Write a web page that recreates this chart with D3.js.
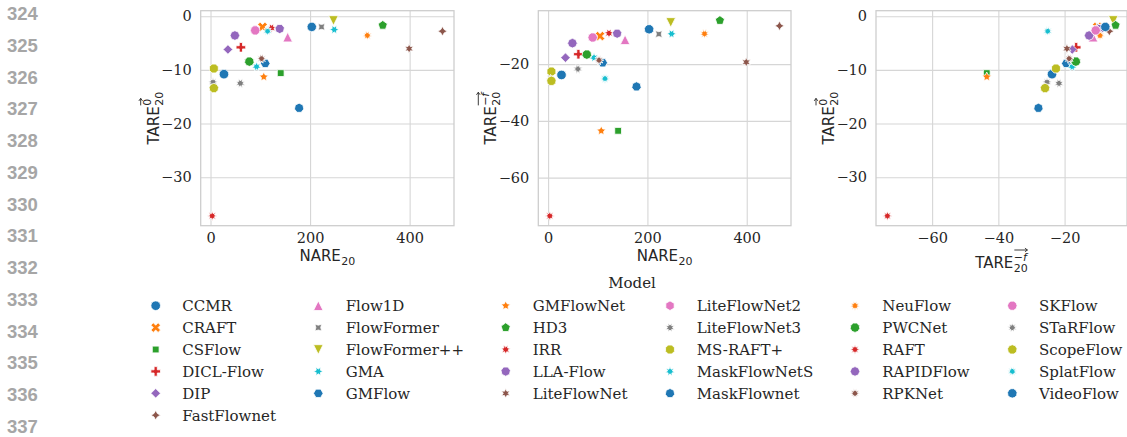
<!DOCTYPE html>
<html>
<head>
<meta charset="utf-8">
<script src="https://cdn.jsdelivr.net/npm/d3@7"></script>
<style>
  body { margin: 0; background: #fff; }
  svg text { fill: #262626; }
</style>
</head>
<body>
<svg id="chart" width="1127" height="437"></svg>
<script>
// data
const models = ['CCMR', 'CRAFT', 'CSFlow', 'DICL-Flow', 'DIP', 'FastFlownet', 'Flow1D', 'FlowFormer',
  'FlowFormer++', 'GMA', 'GMFlow', 'GMFlowNet', 'HD3', 'IRR', 'LLA-Flow', 'LiteFlowNet', 'LiteFlowNet2',
  'LiteFlowNet3', 'MS-RAFT+', 'MaskFlowNetS', 'MaskFlownet', 'NeuFlow', 'PWCNet', 'RAFT', 'RAPIDFlow',
  'RPKNet', 'SKFlow', 'STaRFlow', 'ScopeFlow', 'SplatFlow', 'VideoFlow'];

const nare20 = [27, 104.5, 141, 61, 35, 466, 155, 223, 247, 248.6, 110, 107, 346, 122.6, 139, 399, 89,
  60, 6.7, 92.5, 178, 315, 78, 3.4, 49, 102.5, 89.8, 5, 6.7, 114.6, 203.4];

const tare0 = [-10.8, -2.0, -10.6, -5.8, -6.2, -2.8, -3.9, -2.0, -0.8, -2.5, -8.8, -11.3, -1.7, -2.2,
  -2.35, -6.05, -2.6, -12.5, -9.75, -9.4, -17.1, -3.6, -8.45, -37.2, -3.6, -7.9, -2.65, -12.3, -13.4,
  -2.8, -2.0];

const tareF = [-23.8, -10.1, -43.5, -16.5, -17.7, -6.5, -11.4, -9.4, -5.3, -9.3, -19.5, -43.5, -4.6,
  -9.1, -9.2, -19.3, -10.6, -21.7, -22.6, -17.7, -27.9, -9.3, -16.6, -73.5, -12.6, -18.6, -10.6, -25.3,
  -25.9, -25.1, -7.7];

const nareTicks = [0, 200, 400];
const tare0Ticks = [0, -10, -20, -30];
const tareFTicks = [-60, -40, -20];
const lineNumbers = d3.range(324, 338);

// seaborn style markers, one per model
const markerSpecs = ['o', 'X', [4, 0, 45], 'P', [4, 0, 0], [4, 1, 0], '^', [4, 1, 45], 'v'];
for (let s = 5; markerSpecs.length < models.length; s++) {
  const a = 360 / (s + 1) / 2;
  markerSpecs.push([s + 1, 1, a], [s + 1, 0, a], [s, 1, 0], [s, 0, 0]);
}

const svg = d3.select('#chart');
const color = d3.scaleOrdinal().domain(models).range(d3.schemeCategory10);
const serif = 'DejaVu Serif';
const sans = 'DejaVu Sans';

function markerPath(spec, r) {
  const pts = [];
  if (spec === 'o') {
    return `M${r},0A${r},${r} 0 1,1 ${-r},0A${r},${r} 0 1,1 ${r},0Z`;
  }
  if (spec === 'P' || spec === 'X') {
    let v = [[-1, -3], [1, -3], [1, -1], [3, -1], [3, 1], [1, 1], [1, 3], [-1, 3], [-1, 1], [-3, 1], [-3, -1], [-1, -1]]
      .map(([a, b]) => [a / 6 * 2 * r, b / 6 * 2 * r]);
    if (spec === 'X') {
      v = [[-1, -2], [0, -1], [1, -2], [2, -1], [1, 0], [2, 1], [1, 2], [0, 1], [-1, 2], [-2, 1], [-1, 0], [-2, -1]]
        .map(([a, b]) => [a / 4 * 2 * r, b / 4 * 2 * r]);
    }
    return 'M' + v.map(p => p.join(',')).join('L') + 'Z';
  }
  if (spec === '^' || spec === 'v') {
    const s = spec === '^' ? -1 : 1;
    return `M0,${s * r}L${-r},${-s * r}L${r},${-s * r}Z`;
  }
  const [n, star, ang] = spec;
  const count = star ? 2 * n : n;
  for (let i = 0; i < count; i++) {
    const t = 2 * Math.PI * i / count + Math.PI / 2 + ang * Math.PI / 180;
    const rr = star && i % 2 ? r * 0.5 : r;
    pts.push([rr * Math.cos(t), -rr * Math.sin(t)]);
  }
  return 'M' + pts.map(p => p[0].toFixed(2) + ',' + p[1].toFixed(2)).join('L') + 'Z';
}

function padded(vals) {
  const [a, b] = d3.extent(vals);
  const p = (b - a) * 0.05;
  return [a - p, b + p];
}

// "TARE" / "NARE" with sub 20 and an optional arrowed superscript
function mathLabel(parent, cx, cy, rotate, base, sup) {
  const g = parent.append('g').attr('transform', `translate(${cx},${cy}) rotate(${rotate})`);
  const inner = g.append('g');
  const main = inner.append('text').attr('font-family', sans).attr('font-size', 15).text(base);
  const w = main.node().getComputedTextLength() + 0.5;
  const sub = inner.append('text').attr('font-family', sans).attr('font-size', 11)
    .attr('x', w).attr('y', 4).text('20');
  let extra = sub.node().getComputedTextLength();
  if (sup) {
    const st = inner.append('text').attr('font-family', sans).attr('font-size', 11)
      .attr('x', w).attr('y', -7.5);
    if (sup === 'f') {
      st.append('tspan').text('\u2212');
      st.append('tspan').attr('font-style', 'italic').text('f');
    } else {
      st.text(sup);
    }
    const sw = st.node().getComputedTextLength();
    const ay = -18;
    inner.append('path')
      .attr('d', `M${w + 0.5},${ay}L${w + sw + 0.5},${ay}M${w + sw - 2},${ay - 1.8}L${w + sw + 0.5},${ay}L${w + sw - 2},${ay + 1.8}`)
      .attr('fill', 'none').attr('stroke', '#262626').attr('stroke-width', 0.9);
    extra = Math.max(extra, sw);
  }
  inner.attr('transform', `translate(${-(w + extra) / 2},0)`);
}

// line numbers at the left margin
svg.append('g').selectAll('text').data(lineNumbers).join('text')
  .attr('x', 7).attr('y', (d, i) => 20 + i * 31.75)
  .attr('font-family', 'Liberation Sans').attr('font-weight', 'bold').attr('font-size', 18.5)
  .style('fill', '#a6a6a6').text(d => d);

const plotTop = 10.7, plotBottom = 225.7;
const panels = [
  { left: 200.7, right: 454, xs: nare20, ys: tare0, xTicks: nareTicks, yTicks: tare0Ticks, xSup: null, ySup: '0' },
  { left: 538.3, right: 791, xs: nare20, ys: tareF, xTicks: nareTicks, yTicks: tareFTicks, xSup: null, ySup: 'f' },
  { left: 876, right: 1127, xs: tareF, ys: tare0, xTicks: tareFTicks, yTicks: tare0Ticks, xSup: 'f', ySup: '0' }
];

panels.forEach(p => {
  const x = d3.scaleLinear().domain(padded(p.xs)).range([p.left, p.right]);
  const y = d3.scaleLinear().domain(padded(p.ys)).range([plotBottom, plotTop]);
  const g = svg.append('g');

  const xAxis = g.append('g').attr('transform', `translate(0,${plotBottom})`)
    .call(d3.axisBottom(x).tickValues(p.xTicks).tickSize(-(plotBottom - plotTop)).tickPadding(7));
  const yAxis = g.append('g').attr('transform', `translate(${p.left},0)`)
    .call(d3.axisLeft(y).tickValues(p.yTicks).tickSize(-(p.right - p.left)).tickPadding(9));
  [xAxis, yAxis].forEach(a => {
    a.select('.domain').remove();
    a.selectAll('.tick line').attr('stroke', '#d6d6d6').attr('stroke-width', 1.1);
    a.selectAll('.tick text').attr('font-family', serif).attr('font-size', 14.5).style('fill', '#262626');
  });

  g.append('rect')
    .attr('x', p.left).attr('y', plotTop).attr('width', p.right - p.left).attr('height', plotBottom - plotTop)
    .attr('fill', 'none').attr('stroke', '#cccccc').attr('stroke-width', 1.25);

  g.append('g').selectAll('path').data(models).join('path')
    .attr('transform', (d, i) => `translate(${x(p.xs[i])},${y(p.ys[i])})`)
    .attr('d', (d, i) => markerPath(markerSpecs[i], 4.8))
    .attr('fill', d => color(d))
    .attr('stroke', '#fff').attr('stroke-width', 0.8);

  mathLabel(svg, (p.left + p.right) / 2, p.xSup ? 268 : 261, 0, p.xSup ? 'TARE' : 'NARE', p.xSup);
  mathLabel(svg, p.left - 42, (plotTop + plotBottom) / 2, -90, 'TARE', p.ySup);
});

// legend
svg.append('text').attr('x', 632).attr('y', 288).attr('text-anchor', 'middle')
  .attr('font-family', serif).attr('font-size', 15).text('Model');

const colMarkerX = [155.7, 318.3, 505.7, 670, 855, 1012.3];
const colTextX = [182.3, 345.7, 532.7, 696.7, 882.3, 1039];
const colStart = [0, 6, 11, 16, 21, 26, 31];

const legend = svg.append('g');
const items = legend.selectAll('g').data(models).join('g')
  .attr('transform', (d, i) => {
    const c = d3.bisectRight(colStart, i) - 1;
    return `translate(0,${305.7 + (i - colStart[c]) * 21.9})`;
  });
items.append('path')
  .attr('transform', (d, i) => `translate(${colMarkerX[d3.bisectRight(colStart, i) - 1]},0)`)
  .attr('d', (d, i) => markerPath(markerSpecs[i], 4.8))
  .attr('fill', d => color(d))
  .attr('stroke', '#fff').attr('stroke-width', 0.8);
items.append('text')
  .attr('x', (d, i) => colTextX[d3.bisectRight(colStart, i) - 1])
  .attr('dy', '0.36em')
  .attr('font-family', serif).attr('font-size', 15)
  .text(d => d);
</script>
</body>
</html>
